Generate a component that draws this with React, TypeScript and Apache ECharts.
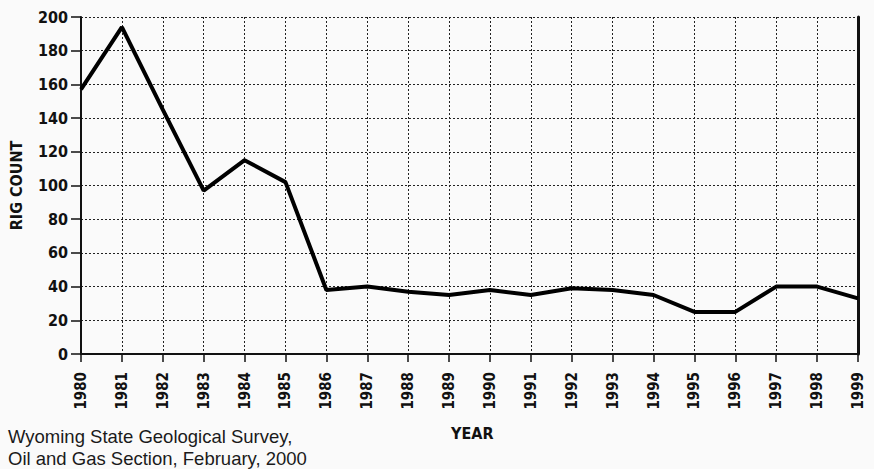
import React, { useEffect, useRef } from "react";
import * as echarts from "echarts";

const years = ["1980","1981","1982","1983","1984","1985","1986","1987","1988","1989","1990","1991","1992","1993","1994","1995","1996","1997","1998","1999"];
const rigCount = [157, 194, 145, 97, 115, 102, 38, 40, 37, 35, 38, 35, 39, 38, 35, 25, 25, 40, 40, 33];
const yTicks = { min: 0, max: 200, interval: 20 };
const sourceLines = ["Wyoming State Geological Survey,", "Oil and Gas Section, February, 2000"];
const xTitle = "YEAR";
const yTitle = "RIG COUNT";

const FONT = "'DejaVu Sans Condensed', 'DejaVu Sans', sans-serif";

export default function App() {
  const ref = useRef<HTMLDivElement>(null);
  useEffect(() => {
    if (!ref.current) return;
    const chart = echarts.init(ref.current, null, { renderer: "svg" });
    chart.setOption({
      animation: false,
      backgroundColor: "#fafafa",
      grid: { left: 72, right: 16, top: 17, bottom: 115 },
      xAxis: {
        type: "category",
        data: years,
        boundaryGap: false,
        axisLine: { show: true, lineStyle: { color: "#111", width: 2 } },
        axisTick: { show: true, alignWithLabel: true, length: 8, lineStyle: { color: "#111", width: 1.5 } },
        axisLabel: { rotate: 90, fontFamily: FONT, fontWeight: "bold", fontSize: 15, color: "#111", margin: 18 },
        splitLine: { show: true, lineStyle: { type: [2, 2], color: "#222", width: 1 } },
      },
      yAxis: [
        {
          type: "value",
          min: yTicks.min,
          max: yTicks.max,
          interval: yTicks.interval,
          name: yTitle,
          nameLocation: "middle",
          nameGap: 57,
          nameTextStyle: { fontFamily: FONT, fontWeight: "bold", fontSize: 16, color: "#111" },
          axisLine: { show: true, lineStyle: { color: "#111", width: 2 } },
          axisTick: { show: true, length: 10, lineStyle: { color: "#111", width: 1.5 } },
          axisLabel: { fontFamily: FONT, fontWeight: "bold", fontSize: 16, color: "#111", margin: 13 },
          splitLine: { show: true, lineStyle: { type: [2, 2], color: "#222", width: 1 } },
        },
        {
          type: "value",
          position: "right",
          min: yTicks.min,
          max: yTicks.max,
          interval: yTicks.interval,
          axisLine: { show: true, lineStyle: { color: "#111", width: 3 } },
          axisTick: { show: false },
          axisLabel: { show: false },
          splitLine: { show: false },
        },
      ],
      series: [
        {
          type: "line",
          data: rigCount,
          symbol: "none",
          lineStyle: { color: "#000", width: 4 },
        },
      ],
      graphic: [
        {
          type: "text",
          left: 451,
          top: 425,
          style: {
            text: xTitle,
            fontFamily: FONT,
            fontWeight: "bold",
            fontSize: 16,
            fill: "#111",
          },
        },
        {
          type: "text",
          left: 8,
          top: 425,
          style: {
            text: sourceLines.join("\n"),
            fontFamily: "'Liberation Sans', Arial, sans-serif",
            fontSize: 18.5,
            lineHeight: 22,
            fill: "#1a1a1a",
          },
        },
      ],
    });
    return () => chart.dispose();
  }, []);
  return <div ref={ref} style={{ position: "absolute", left: 0, top: 0, width: 874, height: 469 }} />;
}
